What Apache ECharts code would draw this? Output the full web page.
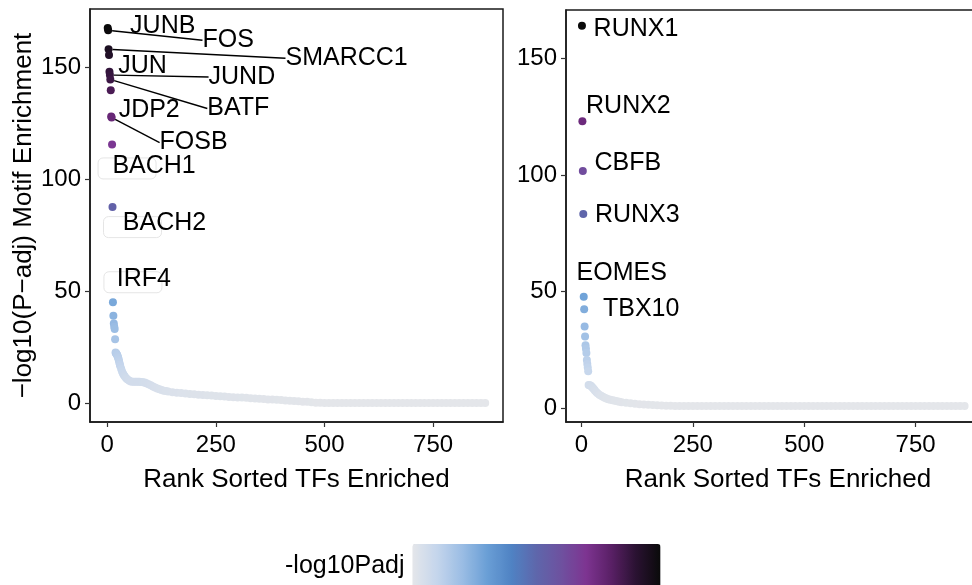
<!DOCTYPE html>
<html><head><meta charset="utf-8">
<script src="https://cdn.jsdelivr.net/npm/echarts@6/dist/echarts.min.js"></script>
<style>html,body{margin:0;padding:0;background:#fff}#c{width:972px;height:585px}</style>
</head><body><div id="c"></div>
<script>
// ---------- DATA ----------
const LEFT_RANKS = [1,2,3,4,5,6,7,8,9,10,11,12,13,14,15,16,17,18,19,20,21,22,23,24,25,26,27,28,29,30,
  32,34,36,38,40,43,46,50,54,58,62,66,70,74,78,82,86,90,95,100,105,110,115,120,125,130,135,140,
  150,160,170,180,190,200,210,220,230,240,250,260,270,280,290,300,310,320,330,340,350,360,370,380,390,400,
  410,420,430,440,450,460,470,480,490,500,510,520,530,540,550,560,570,580,590,600,610,620,630,640,650,
  660,670,680,690,700,710,720,730,740,750,760,770,780,790,800,810,820,830,840,850,860,870];
const LEFT_VALUES = [167.5,166.5,158,155.5,148,146.5,144.5,139.7,128,127.5,115.5,87.5,45,39,35.5,34,33,28.5,
  22.5,22.2,22,21.7,21.3,20.8,20.2,19.5,18.7,17.9,17.1,16.4,
  15.2,14.1,13.2,12.5,11.9,11.2,10.6,10.0,9.6,9.5,9.5,9.5,9.5,9.5,9.4,9.3,9.1,8.8,8.4,7.9,7.4,6.9,6.5,6.1,5.8,5.5,5.3,5.1,
  4.8,4.6,4.4,4.2,4.0,3.9,3.7,3.6,3.4,3.3,3.1,3.0,2.9,2.7,2.6,2.5,2.4,2.3,2.1,2.0,1.9,1.8,1.6,1.5,1.4,1.3,
  1.1,1.0,0.9,0.8,0.6,0.5,0.3,0.15,0.05,0,0,0,0,0,0,0,0,0,0,0,0,0,0,0,0,
  0,0,0,0,0,0,0,0,0,0,0,0,0,0,0,0,0,0,0,0,0,0];
const LEFT_NAMES = ['JUNB','FOS','SMARCC1','','JUN','JUND','BATF','','JDP2','FOSB','BACH1','BACH2','IRF4'];

const RIGHT_RANKS = [1,2,3,4,5,6,7,8,9,10,11,12,13,14,15,16,18,20,22,24,26,28,30,
  33,36,40,44,48,52,56,60,65,70,75,80,85,90,100,110,120,130,140,150,160,170,180,190,200,
  210,220,230,240,250,260,270,280,290,300,310,320,330,340,350,360,370,380,390,400,410,420,430,440,450,
  460,470,480,490,500,510,520,530,540,550,560,570,580,590,600,610,620,630,640,650,660,670,680,690,700,
  710,720,730,740,750,760,770,780,790,800,810,820,830,840,850,860];
const RIGHT_VALUES = [164,123,101.7,83.3,47.8,42.4,35,30.7,27,25.5,23.7,20.7,19,17.5,15.8,
  10.0,9.9,9.7,9.4,9.0,8.6,8.1,7.6,
  7.0,6.4,5.8,5.3,4.9,4.5,4.2,3.9,3.6,3.4,3.2,3.0,2.8,2.6,2.3,2.1,1.9,1.7,1.6,1.5,1.4,1.3,1.2,1.1,1.05,
  1,1,1,1,1,1,1,1,1,1,1,1,1,1,1,1,1,1,1,1,1,1,1,1,1,1,1,1,1,1,1,1,1,1,1,1,1,1,1,1,1,1,1,1,1,1,1,1,1,1,
  1,1,1,1,1,1,1,1,1,1,1,1,1,1,1,1];
const RIGHT_NAMES = ['RUNX1','RUNX2','CBFB','RUNX3','EOMES','TBX10'];

const X_TICKS = [0, 250, 500, 750];
const Y_TICKS = [0, 50, 100, 150];
const COLOR_TITLE = '-log10Padj';
const Y_TITLE = '\u2212log10(P\u2212adj) Motif Enrichment';
const X_TITLE = 'Rank Sorted TFs Enriched';

// ---------- STYLE ----------
const FONT = 'Liberation Sans, Arial, Helvetica, sans-serif';
const PALETTE = ['#e4e6ea','#c4d5ec','#9bbde4','#6a9fd6','#4f82c3','#5e66ab','#6e519f','#7d3491','#5a2066','#2a1232','#0a0a0a'];
// label offsets (px) relative to the labelled point, and which use a leader line
const LABEL_OFFSETS = {
  JUNB:[55,-2], FOS:[120,10], SMARCC1:[238,9], JUN:[33,-6], JUND:[132,2], BATF:[128,29],
  JDP2:[38,-6], FOSB:[82,25], BACH1:[42,22], BACH2:[52,16], IRF4:[31,-23],
  RUNX1:[54,3], RUNX2:[46,-15], CBFB:[45,-8], RUNX3:[54,1], EOMES:[38,-24], TBX10:[57,0]
};
const LINE_LABELS = ['FOS','SMARCC1','JUND','BATF','FOSB'];
const BOXES = {BACH1:[15,24,58,22], BACH2:[20,20,58,21], IRF4:[20,-20,50,21]};

const pts = (r, v) => r.map((x, i) => [x, v[i]]);
function labelItems(ranks, values, names, filter) {
  const out = [];
  names.forEach((n, i) => { if (n && filter(n)) out.push({name: n, value: [ranks[i], values[i]]}); });
  return out;
}
function labelSeries(items, gi, withLine) {
  return {
    type: 'scatter', xAxisIndex: gi, yAxisIndex: gi, data: items, symbolSize: 8,
    itemStyle: {color: 'rgba(0,0,0,0)'}, silent: true, z: 5,
    label: {show: true, formatter: '{b}', position: 'inside', align: 'center', verticalAlign: 'middle',
      fontSize: 25, color: '#000', opacity: 1, textBorderWidth: 0, textBorderColor: 'transparent', fontFamily: FONT},
    labelLine: {show: withLine, lineStyle: {color: '#000', width: 1.4, opacity: 1}},
    labelLayout: p => { const o = LABEL_OFFSETS[items[p.dataIndex].name]; return {dx: o[0], dy: o[1]}; }
  };
}
const leftBoxItems = labelItems(LEFT_RANKS, LEFT_VALUES, LEFT_NAMES, n => BOXES[n]);
const boxSeries = {
  type: 'scatter', xAxisIndex: 0, yAxisIndex: 0, data: leftBoxItems, symbolSize: 8,
  itemStyle: {color: 'rgba(0,0,0,0)'}, silent: true, z: 4,
  label: {show: true, formatter: p => '{b|}', position: 'inside',
    rich: {b: {width: 58, height: 21, borderColor: '#dedede', borderWidth: 1, borderRadius: 5}}},
  labelLayout: p => { const b = BOXES[leftBoxItems[p.dataIndex].name]; return {dx: b[0], dy: b[1]}; }
};

function xAxis(gi, min, max) {
  return {type: 'value', gridIndex: gi, min, max, name: X_TITLE, nameLocation: 'middle', nameGap: 45,
    nameTextStyle: {fontSize: 26, color: '#000', fontFamily: FONT},
    axisLine: {show: true, onZero: false, lineStyle: {color: '#1a1a1a', width: 1.5}},
    axisTick: {show: true, inside: false, length: 5, customValues: X_TICKS, lineStyle: {color: '#333', width: 1.2}},
    axisLabel: {customValues: X_TICKS, margin: 11, fontSize: 24, color: '#000', fontFamily: FONT},
    splitLine: {show: false}};
}
function yAxis(gi, min, max, name) {
  return {type: 'value', gridIndex: gi, min, max, name: name || '', nameLocation: 'middle', nameGap: 44, nameRotate: 90,
    nameTextStyle: {fontSize: 26, color: '#000', fontFamily: FONT},
    axisLine: {show: true, onZero: false, lineStyle: {color: '#1a1a1a', width: 1.5}},
    axisTick: {show: true, inside: false, length: 5, customValues: Y_TICKS, lineStyle: {color: '#333', width: 1.2}},
    axisLabel: {customValues: Y_TICKS, margin: 9, fontSize: 24, color: '#000', fontFamily: FONT},
    splitLine: {show: false}};
}

const chart = echarts.init(document.getElementById('c'));
chart.setOption({
  animation: false,
  textStyle: {fontFamily: FONT},
  grid: [
    {left: 90, top: 9, width: 413, height: 413, show: true, borderColor: '#1a1a1a', borderWidth: 1.5, backgroundColor: '#fff', containLabel: false, outerBoundsMode: 'none'},
    {left: 566, top: 10, width: 424, height: 412, show: true, borderColor: '#1a1a1a', borderWidth: 1.5, backgroundColor: '#fff', containLabel: false, outerBoundsMode: 'none'}
  ],
  xAxis: [xAxis(0, -39.8, 911), xAxis(1, -34.8, 917)],
  yAxis: [yAxis(0, -8.5, 176, Y_TITLE), yAxis(1, -5.9, 170.7)],
  visualMap: [
    {type: 'continuous', seriesIndex: 0, min: 0, max: 167.5, orient: 'horizontal', left: 285, top: 544, padding: 0,
      itemWidth: 44, itemHeight: 248, calculable: false, text: ['', COLOR_TITLE], textGap: 8,
      textStyle: {fontSize: 25, color: '#000', fontFamily: FONT}, inRange: {color: PALETTE}},
    {type: 'continuous', seriesIndex: 1, min: 1, max: 164, show: false, inRange: {color: PALETTE}}
  ],
  series: [
    {type: 'scatter', xAxisIndex: 0, yAxisIndex: 0, data: pts(LEFT_RANKS, LEFT_VALUES), symbolSize: 8, silent: true, z: 2, itemStyle: {opacity: 1}},
    {type: 'scatter', xAxisIndex: 1, yAxisIndex: 1, data: pts(RIGHT_RANKS, RIGHT_VALUES), symbolSize: 8, silent: true, z: 2, itemStyle: {opacity: 1}},
    boxSeries,
    labelSeries(labelItems(LEFT_RANKS, LEFT_VALUES, LEFT_NAMES, n => LINE_LABELS.indexOf(n) < 0), 0, false),
    labelSeries(labelItems(LEFT_RANKS, LEFT_VALUES, LEFT_NAMES, n => LINE_LABELS.indexOf(n) >= 0), 0, true),
    labelSeries(labelItems(RIGHT_RANKS, RIGHT_VALUES, RIGHT_NAMES, n => true), 1, false)
  ]
});
</script></body></html>
